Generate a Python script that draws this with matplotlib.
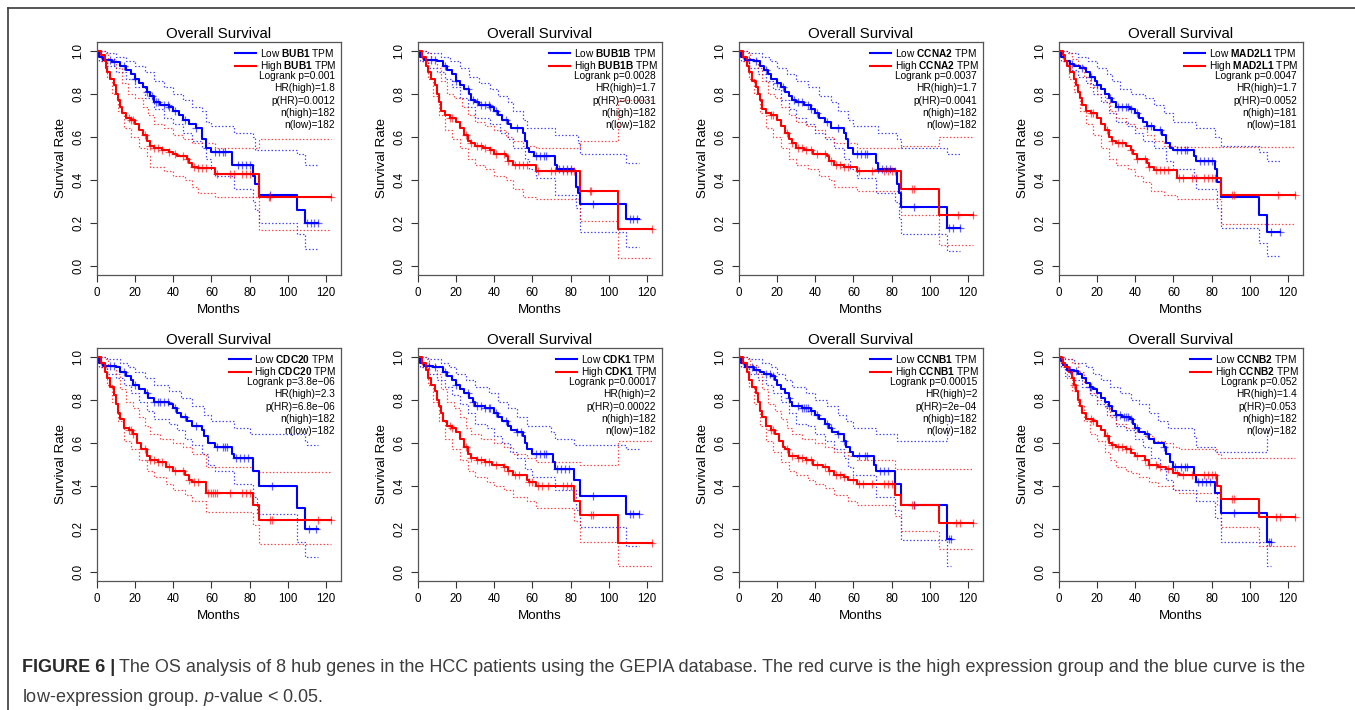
"""Eight GEPIA overall-survival KM panels (hub genes in HCC), Figure 6 layout."""
import matplotlib
matplotlib.use("Agg")
import matplotlib.pyplot as plt
from matplotlib.lines import Line2D

plt.rcParams["font.family"] = ["Liberation Sans", "DejaVu Sans"]
plt.rcParams["mathtext.fontset"] = "custom"
plt.rcParams["mathtext.rm"] = "Liberation Sans"
plt.rcParams["mathtext.bf"] = "Liberation Sans:bold"
plt.rcParams["mathtext.it"] = "Liberation Sans:italic"

GENES = ["BUB1", "BUB1B", "CCNA2", "MAD2L1", "CDC20", "CDK1", "CCNB1", "CCNB2"]

# (months, survival from that month on); last pair = end of follow-up
BUB1_LOW = [(0, 1), (1, .97), (3, .955), (8, .945), (12, .93), (15, .91), (18, .89), (20, .87), (22, .85),
            (24, .83), (26, .81), (28, .79), (30, .76), (33, .75), (38, .74), (40, .72), (43, .70), (45, .68),
            (48, .66), (52, .64), (55, .59), (57, .55), (60, .53), (71, .47), (82, .42), (83, .38), (85, .33),
            (105, .26), (109, .20), (116, .20)]
BUB1_HIGH = [(0, 1), (2, .98), (4, .95), (4.5, .92), (5, .90), (7, .87), (9, .84), (10, .80), (11, .77),
             (12, .74), (13, .71), (15, .69), (18, .68), (20, .66), (22, .63), (24, .61), (26, .58), (28, .56),
             (30, .55), (34, .54), (38, .53), (40, .52), (42, .51), (47, .50), (48, .48), (50, .46), (53, .455),
             (62, .43), (85, .32), (123, .32)]
BUB1_LOW_UP = [(0, 1), (5, .99), (10, .97), (15, .95), (20, .93), (25, .90), (30, .86), (35, .83), (40, .80),
               (45, .77), (50, .74), (55, .72), (57, .67), (60, .65), (72, .62), (82, .60), (83, .54),
               (105, .52), (109, .47), (116, .47)]
BUB1_LOW_DN = [(0, 1), (1, .95), (5, .93), (10, .90), (15, .87), (20, .83), (25, .78), (30, .73), (35, .69),
               (40, .66), (45, .62), (50, .58), (55, .55), (57, .50), (60, .45), (62, .42), (72, .36), (82, .30),
               (83, .26), (85, .20), (105, .15), (109, .08), (116, .08)]
BUB1_HIGH_UP = [(0, 1), (4, .99), (6, .96), (10, .92), (13, .85), (16, .80), (20, .78), (24, .74), (27, .70),
                (30, .66), (35, .64), (40, .61), (45, .59), (50, .57), (62, .55), (85, .59), (123, .59)]
BUB1_HIGH_DN = [(0, 1), (2, .95), (5, .88), (8, .80), (11, .72), (14, .64), (18, .60), (22, .55), (26, .51),
                (28, .46), (35, .44), (40, .42), (46, .40), (50, .37), (53, .34), (62, .32), (85, .17), (123, .17)]
BUB1_LOW_CENS = [7, 9, 14, 20, 26, 29, 31, 32, 35, 37, 38, 41, 46, 52, 62, 64, 66, 67, 74, 76, 78, 80, 91,
                 110, 112, 114, 116]
BUB1_HIGH_CENS = [17, 18, 19, 25, 28, 30, 32, 34, 38, 41, 45, 47, 51, 53, 55, 57, 63, 70, 72, 76, 78, 80,
                  90, 91, 123]

BUB1B_LOW = [(0, 1), (1, .97), (3, .955), (10, .95), (13, .93), (15, .91), (18, .89), (20, .86), (22, .84),
             (24, .82), (27, .80), (28, .77), (30, .76), (32, .75), (38, .74), (40, .72), (42, .70), (44, .68),
             (47, .66), (49, .64), (55, .62), (56, .58), (57, .55), (58, .53), (61, .51), (72, .47), (73, .45),
             (82, .44), (83, .37), (84, .34), (85, .29), (109, .22), (116, .22)]
BUB1B_HIGH = [(0, 1), (2, .97), (4, .93), (5, .90), (7, .87), (9, .84), (10, .80), (11, .76), (12, .72),
              (14, .70), (17, .69), (20, .67), (22, .64), (24, .61), (26, .58), (28, .57), (30, .56), (34, .55),
              (38, .54), (40, .52), (46, .51), (47, .49), (50, .47), (62, .44), (85, .35), (105, .175),
              (123, .175)]
BUB1B_LOW_UP = [(0, 1), (5, .99), (12, .97), (17, .95), (22, .92), (27, .88), (32, .85), (38, .82), (42, .79),
                (47, .76), (50, .72), (55, .68), (57, .64), (72, .61), (84, .57), (85, .52), (109, .48),
                (116, .48)]
BUB1B_LOW_DN = [(0, 1), (1, .95), (5, .92), (10, .90), (14, .87), (18, .83), (22, .78), (26, .74), (30, .69),
                (38, .66), (43, .62), (47, .59), (50, .55), (56, .50), (58, .45), (62, .41), (72, .33),
                (83, .27), (85, .16), (109, .09), (116, .09)]
BUB1B_HIGH_UP = [(0, 1), (4, .99), (7, .96), (10, .92), (12, .86), (15, .80), (19, .78), (23, .74), (26, .70),
                 (30, .67), (35, .65), (40, .63), (46, .60), (50, .58), (55, .56), (62, .55), (85, .58),
                 (105, .77), (123, .77)]
BUB1B_HIGH_DN = [(0, 1), (2, .95), (5, .87), (8, .79), (11, .70), (14, .63), (18, .59), (22, .55), (26, .50),
                 (30, .47), (35, .45), (40, .42), (46, .40), (50, .36), (55, .32), (62, .31), (85, .21),
                 (105, .04), (123, .04)]
BUB1B_LOW_CENS = [7, 9, 14, 20, 26, 29, 31, 33, 35, 37, 38, 41, 46, 52, 62, 64, 66, 67, 74, 76, 78, 80, 92,
                  111, 113, 115]
BUB1B_HIGH_CENS = [17, 18, 25, 28, 31, 33, 35, 38, 41, 45, 47, 51, 53, 55, 57, 63, 70, 72, 76, 78, 80, 82,
                   90, 91, 123]

CCNA2_LOW = [(0, 1), (1, .97), (3, .955), (8, .95), (11, .93), (13, .91), (15, .89), (17, .87), (20, .85),
             (22, .83), (24, .81), (26, .79), (28, .77), (30, .76), (34, .75), (38, .73), (40, .71), (42, .69),
             (45, .67), (48, .64), (55, .62), (56, .59), (57, .55), (60, .52), (72, .48), (73, .45), (82, .44),
             (83, .38), (84, .34), (85, .275), (109, .18), (116, .18)]
CCNA2_HIGH = [(0, 1), (2, .97), (4, .93), (5, .90), (7, .86), (9, .83), (10, .80), (11, .77), (12, .73),
              (14, .71), (17, .70), (20, .68), (22, .65), (24, .62), (26, .59), (28, .57), (30, .55), (34, .54),
              (39, .52), (46, .51), (47, .49), (50, .47), (55, .46), (62, .44), (85, .36), (105, .24),
              (123, .24)]
CCNA2_LOW_UP = [(0, 1), (5, .99), (12, .97), (16, .95), (20, .92), (25, .89), (30, .86), (36, .83), (42, .79),
                (48, .76), (52, .72), (57, .68), (60, .65), (73, .62), (83, .59), (85, .55), (109, .52),
                (116, .52)]
CCNA2_LOW_DN = [(0, 1), (1, .95), (5, .92), (10, .89), (14, .86), (18, .82), (22, .77), (26, .73), (30, .69),
                (35, .66), (40, .62), (45, .59), (50, .55), (55, .50), (58, .45), (62, .41), (72, .34),
                (82, .30), (84, .22), (85, .15), (109, .07), (116, .07)]
CCNA2_HIGH_UP = [(0, 1), (4, .99), (6, .96), (10, .92), (12, .86), (15, .80), (19, .78), (22, .74), (26, .70),
                 (30, .67), (35, .65), (40, .63), (45, .60), (50, .57), (62, .55), (85, .56), (105, .60),
                 (123, .60)]
CCNA2_HIGH_DN = [(0, 1), (2, .95), (5, .87), (8, .80), (11, .71), (14, .64), (18, .60), (22, .55), (26, .50),
                 (30, .47), (36, .45), (42, .42), (47, .40), (50, .37), (62, .35), (85, .24), (105, .10),
                 (123, .10)]
CCNA2_LOW_CENS = [5, 9, 14, 20, 23, 29, 31, 33, 36, 38, 41, 46, 52, 62, 64, 66, 67, 73, 75, 77, 79, 92,
                  110, 112, 116]
CCNA2_HIGH_CENS = [17, 18, 25, 28, 31, 33, 35, 38, 41, 45, 48, 51, 53, 55, 57, 63, 70, 76, 78, 80, 82,
                   91, 92, 115, 123]

MAD2L1_LOW = [(0, 1), (1, .97), (3, .95), (6, .94), (8, .93), (11, .92), (14, .90), (16, .88), (19, .86),
              (20, .84), (22, .82), (24, .80), (26, .78), (28, .76), (30, .74), (37, .73), (40, .71), (42, .69),
              (44, .67), (46, .65), (50, .63), (54, .61), (56, .57), (58, .55), (60, .54), (71, .51), (72, .49),
              (82, .45), (83, .39), (85, .32), (105, .24), (109, .16), (116, .16)]
MAD2L1_HIGH = [(0, 1), (2, .98), (3, .95), (4, .93), (6, .90), (8, .87), (9, .84), (10, .81), (11, .78),
               (12, .75), (14, .72), (17, .71), (20, .69), (22, .66), (24, .63), (26, .60), (28, .58), (30, .57),
               (35, .56), (38, .54), (39, .52), (41, .50), (46, .48), (47, .46), (50, .445), (62, .41),
               (85, .33), (124, .33)]
MAD2L1_LOW_UP = [(0, 1), (5, .99), (10, .97), (15, .95), (20, .92), (25, .89), (28, .86), (32, .82), (38, .80),
                 (45, .78), (50, .75), (55, .71), (60, .67), (72, .64), (82, .60), (85, .56), (105, .53),
                 (109, .49), (116, .49)]
MAD2L1_LOW_DN = [(0, 1), (1, .95), (5, .91), (10, .88), (14, .85), (18, .80), (22, .76), (26, .71), (30, .67),
                 (36, .65), (40, .62), (44, .58), (50, .55), (56, .49), (60, .45), (71, .41), (72, .36),
                 (83, .27), (85, .18), (105, .11), (109, .05), (116, .05)]
MAD2L1_HIGH_UP = [(0, 1), (4, .99), (7, .96), (10, .93), (13, .88), (16, .83), (20, .80), (24, .76),
                  (27, .72), (30, .69), (35, .66), (40, .64), (46, .61), (50, .58), (55, .56), (62, .555),
                  (124, .555)]
MAD2L1_HIGH_DN = [(0, 1), (2, .95), (5, .87), (8, .81), (11, .72), (14, .66), (18, .61), (22, .55), (26, .50),
                  (30, .47), (36, .45), (40, .42), (44, .39), (48, .35), (55, .33), (62, .31), (85, .195),
                  (124, .195)]
MAD2L1_LOW_CENS = [7, 12, 17, 20, 27, 31, 33, 35, 36, 38, 41, 46, 48, 53, 62, 64, 66, 67, 74, 76, 78, 80,
                   111, 116]
MAD2L1_HIGH_CENS = [17, 18, 25, 28, 31, 33, 38, 41, 45, 47, 51, 53, 55, 57, 63, 65, 70, 72, 76, 78, 80, 82,
                    91, 92, 115, 124]

CDC20_LOW = [(0, 1), (1, .97), (3, .955), (10, .95), (12, .93), (15, .91), (18, .89), (19, .87), (22, .85),
             (25, .83), (27, .81), (30, .79), (38, .78), (40, .76), (42, .74), (44, .72), (47, .70), (50, .68),
             (55, .66), (56, .63), (58, .60), (62, .58), (71, .55), (72, .53), (82, .47), (85, .40), (105, .30),
             (109, .20), (116, .20)]
CDC20_HIGH = [(0, 1), (2, .97), (4, .93), (5, .90), (7, .86), (9, .82), (10, .78), (11, .74), (12, .71),
              (14, .67), (17, .66), (19, .64), (21, .60), (23, .57), (26, .54), (28, .52), (32, .51), (36, .49),
              (40, .47), (46, .45), (48, .43), (50, .42), (57, .37), (82, .31), (85, .245), (123, .245)]
CDC20_LOW_UP = [(0, 1), (5, .99), (12, .97), (16, .95), (20, .93), (25, .90), (30, .87), (38, .84), (44, .81),
                (50, .77), (56, .73), (60, .70), (72, .67), (80, .64), (109, .61), (110, .59), (116, .59)]
CDC20_LOW_DN = [(0, 1), (1, .95), (5, .92), (10, .90), (14, .87), (18, .83), (22, .79), (26, .75), (30, .71),
                (38, .69), (42, .66), (46, .62), (50, .59), (55, .55), (58, .50), (62, .47), (72, .41),
                (82, .35), (84, .27), (105, .14), (109, .07), (116, .07)]
CDC20_HIGH_UP = [(0, 1), (4, .99), (6, .96), (10, .92), (12, .85), (15, .79), (19, .76), (22, .72), (25, .68),
                 (28, .64), (33, .62), (40, .60), (45, .58), (50, .55), (57, .49), (82, .47), (85, .465),
                 (123, .465)]
CDC20_HIGH_DN = [(0, 1), (2, .95), (5, .87), (8, .79), (11, .70), (14, .61), (18, .57), (22, .52), (26, .47),
                 (30, .44), (36, .41), (40, .38), (46, .36), (50, .33), (57, .28), (82, .22), (85, .13),
                 (123, .13)]
CDC20_LOW_CENS = [7, 9, 14, 20, 26, 30, 32, 33, 35, 37, 41, 46, 52, 63, 66, 67, 68, 73, 75, 77, 79, 92,
                  111, 115]
CDC20_HIGH_CENS = [17, 18, 19, 25, 28, 30, 32, 34, 38, 41, 45, 48, 51, 53, 58, 60, 61, 62, 63, 70, 76, 78,
                   80, 91, 92, 116, 123]

CDK1_LOW = [(0, 1), (1, .97), (3, .955), (8, .95), (13, .93), (15, .91), (18, .89), (20, .87), (22, .85),
            (24, .83), (27, .81), (29, .79), (30, .77), (35, .76), (40, .74), (42, .72), (44, .70), (47, .68),
            (49, .66), (52, .65), (55, .63), (56, .60), (57, .57), (60, .55), (71, .51), (72, .48), (82, .43),
            (85, .355), (109, .27), (116, .27)]
CDK1_HIGH = [(0, 1), (2, .97), (4, .94), (5, .90), (7, .87), (9, .84), (10, .80), (11, .77), (12, .74),
             (13, .70), (15, .68), (18, .67), (20, .65), (22, .62), (24, .58), (26, .55), (28, .53), (31, .52),
             (35, .51), (39, .50), (45, .49), (47, .47), (50, .45), (57, .43), (58, .42), (62, .40), (82, .33),
             (85, .265), (105, .135), (123, .135)]
CDK1_LOW_UP = [(0, 1), (5, .99), (12, .97), (16, .95), (20, .92), (25, .89), (30, .86), (37, .83), (42, .79),
               (47, .76), (52, .72), (57, .68), (70, .65), (72, .62), (82, .59), (109, .57), (116, .57)]
CDK1_LOW_DN = [(0, 1), (1, .95), (5, .92), (10, .89), (14, .86), (18, .82), (22, .78), (26, .74), (30, .69),
               (36, .67), (40, .63), (44, .60), (48, .56), (52, .53), (56, .48), (60, .44), (72, .38), (83, .29),
               (85, .21), (109, .12), (116, .12)]
CDK1_HIGH_UP = [(0, 1), (4, .99), (6, .96), (10, .92), (12, .85), (15, .79), (19, .76), (22, .72), (25, .67),
                (28, .64), (33, .62), (40, .60), (45, .58), (50, .55), (57, .53), (62, .51), (85, .50),
                (105, .61), (123, .61)]
CDK1_HIGH_DN = [(0, 1), (2, .95), (5, .87), (8, .79), (11, .70), (14, .62), (18, .57), (22, .52), (26, .47),
                (30, .44), (36, .42), (40, .40), (45, .38), (50, .35), (57, .33), (62, .30), (82, .24),
                (85, .14), (105, .03), (123, .03)]
CDK1_LOW_CENS = [6, 9, 14, 20, 26, 29, 31, 33, 35, 37, 38, 41, 46, 52, 54, 62, 64, 66, 67, 73, 75, 77, 79,
                 92, 111, 113, 116]
CDK1_HIGH_CENS = [17, 18, 25, 28, 31, 33, 35, 37, 41, 45, 47, 51, 53, 58, 60, 63, 65, 68, 76, 78, 80, 91,
                  92, 123]

CCNB1_LOW = [(0, 1), (1, .97), (3, .95), (8, .94), (11, .93), (13, .92), (17, .91), (19, .89), (20, .87),
             (22, .85), (24, .83), (26, .81), (27, .79), (28, .77), (33, .76), (38, .75), (40, .73), (42, .71),
             (45, .69), (47, .67), (49, .65), (52, .64), (55, .61), (56, .58), (58, .56), (60, .54), (71, .50),
             (72, .47), (82, .41), (85, .31), (109, .155), (111, .155)]
CCNB1_HIGH = [(0, 1), (2, .97), (4, .93), (5, .89), (7, .86), (9, .83), (10, .79), (11, .75), (12, .72),
              (14, .68), (17, .66), (19, .64), (21, .61), (23, .58), (24, .57), (26, .54), (31, .53), (35, .52),
              (39, .50), (44, .49), (47, .47), (50, .45), (55, .44), (57, .43), (62, .41), (82, .36), (85, .31),
              (105, .23), (123, .23)]
CCNB1_LOW_UP = [(0, 1), (5, .99), (12, .97), (17, .95), (20, .92), (24, .89), (28, .86), (35, .83), (40, .80),
                (46, .77), (52, .73), (56, .70), (60, .67), (72, .64), (83, .61), (109, .70), (111, .70)]
CCNB1_LOW_DN = [(0, 1), (1, .95), (5, .92), (10, .89), (14, .87), (18, .83), (22, .79), (26, .74), (30, .69),
                (36, .68), (40, .64), (45, .61), (50, .57), (55, .53), (57, .49), (60, .45), (72, .35),
                (82, .29), (85, .15), (109, .03), (111, .03)]
CCNB1_HIGH_UP = [(0, 1), (4, .99), (6, .96), (10, .92), (12, .85), (15, .78), (19, .75), (22, .71), (25, .67),
                 (28, .64), (33, .62), (40, .60), (45, .58), (50, .56), (57, .54), (62, .52), (82, .48),
                 (123, .48)]
CCNB1_HIGH_DN = [(0, 1), (2, .95), (5, .86), (8, .78), (11, .68), (14, .61), (18, .56), (22, .51), (26, .47),
                 (30, .45), (36, .43), (40, .41), (45, .39), (50, .36), (57, .33), (62, .31), (82, .26),
                 (85, .19), (105, .11), (123, .11)]
CCNB1_LOW_CENS = [7, 9, 14, 16, 18, 26, 31, 33, 34, 35, 36, 38, 41, 46, 48, 52, 55, 63, 66, 67, 74, 76,
                  78, 92, 110, 111]
CCNB1_HIGH_CENS = [17, 18, 25, 28, 31, 33, 35, 38, 41, 45, 47, 51, 53, 55, 60, 63, 65, 70, 76, 78, 80,
                   91, 92, 114, 116, 123]

CCNB2_LOW = [(0, 1), (1, .98), (2, .96), (4, .94), (8, .935), (10, .92), (12, .90), (14, .88), (16, .86),
             (18, .85), (20, .83), (22, .81), (24, .79), (26, .77), (28, .75), (30, .73), (33, .72), (37, .71),
             (39, .69), (40, .67), (42, .65), (45, .64), (47, .62), (50, .60), (55, .58), (56, .55), (58, .51),
             (60, .49), (71, .45), (72, .42), (82, .37), (85, .275), (109, .14), (111, .14)]
CCNB2_HIGH = [(0, 1), (1.5, .99), (2, .97), (3, .95), (5, .93), (7, .90), (8, .87), (9, .84), (10, .80),
              (11, .77), (12, .74), (14, .71), (18, .70), (20, .68), (22, .66), (24, .63), (26, .60), (28, .59),
              (30, .58), (35, .57), (38, .555), (40, .54), (45, .52), (47, .50), (52, .49), (56, .48),
              (60, .46), (63, .45), (83, .40), (85, .34), (105, .255), (124, .255)]
CCNB2_LOW_UP = [(0, 1), (3, .99), (8, .97), (14, .95), (18, .92), (22, .89), (27, .86), (32, .83), (38, .80),
                (42, .78), (47, .74), (52, .70), (57, .67), (71, .63), (72, .58), (82, .56), (109, .66),
                (111, .66)]
CCNB2_LOW_DN = [(0, 1), (1, .95), (3, .91), (8, .89), (12, .86), (16, .82), (20, .78), (25, .73), (30, .68),
                (35, .66), (40, .62), (44, .58), (48, .53), (53, .48), (56, .43), (60, .38), (72, .33),
                (82, .25), (85, .14), (109, .03), (111, .03)]
CCNB2_HIGH_UP = [(0, 1), (3, .99), (7, .97), (10, .93), (13, .88), (16, .83), (20, .80), (24, .76), (27, .72),
                 (30, .69), (35, .67), (40, .65), (45, .63), (50, .61), (56, .60), (60, .58), (63, .57),
                 (83, .55), (85, .53), (124, .53)]
CCNB2_HIGH_DN = [(0, 1), (1, .96), (4, .90), (7, .84), (10, .77), (13, .70), (16, .64), (20, .61), (24, .56),
                 (27, .52), (30, .49), (35, .47), (38, .46), (42, .44), (47, .42), (52, .40), (60, .38),
                 (63, .37), (83, .31), (85, .21), (105, .12), (124, .12)]
CCNB2_LOW_CENS = [6, 9, 16, 17, 26, 30, 32, 34, 35, 36, 38, 41, 46, 55, 61, 64, 66, 67, 73, 75, 77, 79,
                  92, 110, 111]
CCNB2_HIGH_CENS = [8, 17, 18, 25, 28, 31, 33, 35, 37, 41, 45, 47, 51, 53, 57, 62, 65, 70, 76, 78, 80, 82,
                   91, 92, 114, 116, 124]

STATS = {
    "BUB1": ["Logrank p=0.001", "HR(high)=1.8", "p(HR)=0.0012", "n(high)=182", "n(low)=182"],
    "BUB1B": ["Logrank p=0.0028", "HR(high)=1.7", "p(HR)=0.0031", "n(high)=182", "n(low)=182"],
    "CCNA2": ["Logrank p=0.0037", "HR(high)=1.7", "p(HR)=0.0041", "n(high)=182", "n(low)=182"],
    "MAD2L1": ["Logrank p=0.0047", "HR(high)=1.7", "p(HR)=0.0052", "n(high)=181", "n(low)=181"],
    "CDC20": ["Logrank p=3.8e\u221206", "HR(high)=2.3", "p(HR)=6.8e\u221206", "n(high)=182", "n(low)=182"],
    "CDK1": ["Logrank p=0.00017", "HR(high)=2", "p(HR)=0.00022", "n(high)=182", "n(low)=182"],
    "CCNB1": ["Logrank p=0.00015", "HR(high)=2", "p(HR)=2e\u221204", "n(high)=182", "n(low)=182"],
    "CCNB2": ["Logrank p=0.052", "HR(high)=1.4", "p(HR)=0.053", "n(high)=182", "n(low)=182"],
}

X_TICKS = [0, 20, 40, 60, 80, 100, 120]
Y_TICKS = [0.0, 0.2, 0.4, 0.6, 0.8, 1.0]

W, H = 1355, 710
COL_X = [97, 418, 739, 1059]
ROW_Y = [42, 348]
BOX_W, BOX_H = 244, 233

BLUE, RED = "#0000ff", "#ff0000"


def surv_at(pts, x):
    v = pts[0][1]
    for t, s in pts:
        if t <= x:
            v = s
    return v


def draw_curve(ax, pts, color, **kw):
    ax.step([p[0] for p in pts], [p[1] for p in pts], where="post", color=color, **kw)


fig = plt.figure(figsize=(W / 100, H / 100), dpi=100)

for i, gene in enumerate(GENES):
    g = globals()
    r, c = divmod(i, 4)
    ax = fig.add_axes([COL_X[c] / W, 1 - (ROW_Y[r] + BOX_H) / H, BOX_W / W, BOX_H / H])

    ci = dict(lw=0.9, ls=(0, (1.2, 1.6)), alpha=0.7)
    draw_curve(ax, g[gene + "_LOW_UP"], BLUE, **ci)
    draw_curve(ax, g[gene + "_LOW_DN"], BLUE, **ci)
    draw_curve(ax, g[gene + "_HIGH_UP"], RED, **ci)
    draw_curve(ax, g[gene + "_HIGH_DN"], RED, **ci)
    draw_curve(ax, g[gene + "_LOW"], BLUE, lw=1.5)
    draw_curve(ax, g[gene + "_HIGH"], RED, lw=1.5)

    for key, col in (("_LOW", BLUE), ("_HIGH", RED)):
        pts = g[gene + key]
        cens = g[gene + key + "_CENS"]
        ax.plot(cens, [surv_at(pts, t) for t in cens], ls="none", marker="+",
                ms=6, mew=0.9, color=col, alpha=0.6)

    ax.set_xlim(0, 128)
    ax.set_ylim(-0.04, 1.04)
    ax.set_xticks(X_TICKS)
    ax.set_yticks(Y_TICKS)
    ax.set_yticklabels([f"{v:.1f}" for v in Y_TICKS], rotation=90, va="center")
    ax.tick_params(length=5, width=0.8, color="#333333", labelsize=8.3, pad=4)
    for sp in ax.spines.values():
        sp.set_color("#555555")
        sp.set_linewidth(0.9)
    ax.set_title("Overall Survival", fontsize=10.8, pad=3)
    ax.set_xlabel("Months", fontsize=9.6, labelpad=3)
    ax.set_ylabel("Survival Rate", fontsize=9.6, labelpad=4)

    handles = [Line2D([], [], color=BLUE, lw=1.5), Line2D([], [], color=RED, lw=1.5)]
    labels = [f"Low $\\mathbf{{{gene}}}$ TPM", f"High $\\mathbf{{{gene}}}$ TPM"]
    ax.legend(handles, labels, loc="upper right", bbox_to_anchor=(1.0, 1.0), frameon=False,
              fontsize=7.3, handlelength=2.1, handletextpad=0.35, labelspacing=0.05,
              borderaxespad=0.0, borderpad=0.45)
    for k, line in enumerate(STATS[gene]):
        ax.annotate(line, xy=(1, 1), xycoords="axes fraction", xytext=(-6, -34 - 12.3 * k),
                    textcoords="offset pixels", ha="right", va="center", fontsize=7.3)

# page frame (top and left edges of the figure box)
fig.add_artist(Line2D([8 / W, 1], [1 - 8 / H, 1 - 8 / H], color="#3a3a3a", lw=1.2))
fig.add_artist(Line2D([8 / W, 8 / W], [0, 1 - 8 / H], color="#3a3a3a", lw=1.2))

# caption
cap_col = "#3d3d3d"
cap_fs = 13.0
renderer = fig.canvas.get_renderer()
t0 = fig.text(22 / W, 1 - 668 / H, "FIGURE 6 |", fontsize=cap_fs, fontweight="bold", color="#2a2a2a",
              va="center", ha="left")
bb = t0.get_window_extent(renderer)
fig.text((bb.x1 + 4) / W, 1 - 668 / H,
         "The OS analysis of 8 hub genes in the HCC patients using the GEPIA database. "
         "The red curve is the high expression group and the blue curve is the",
         fontsize=cap_fs, color=cap_col, va="center", ha="left")
fig.text(22 / W, 1 - 697 / H, "low-expression group. $p$-value < 0.05.",
         fontsize=cap_fs, color=cap_col, va="center", ha="left")

fig.savefig("out.png", dpi=100)
